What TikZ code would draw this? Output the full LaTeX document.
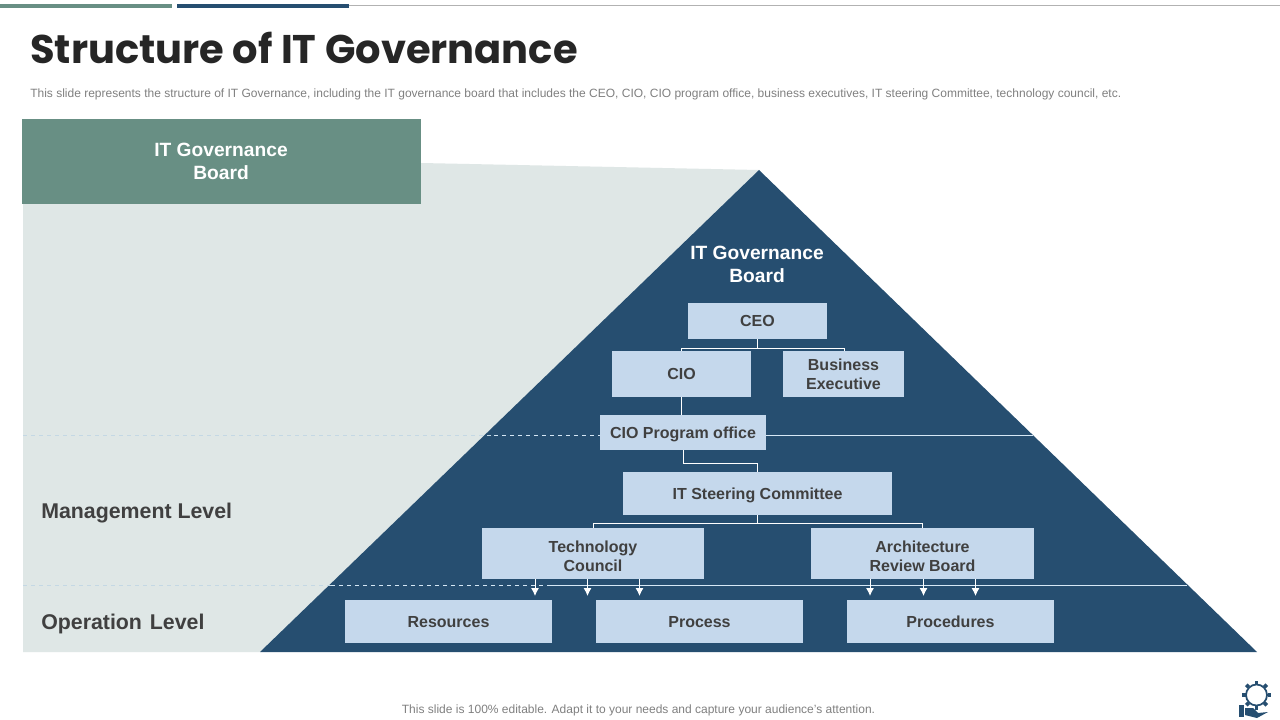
\documentclass[tikz,border=0pt]{standalone}
\usepackage{fontspec}
\setmainfont{Liberation Sans}
\newfontfamily\titlefont{Poppins}
\usepackage{tikz}
\usetikzlibrary{arrows.meta}
\definecolor{navyc}{RGB}{38,78,112}
\definecolor{greenc}{RGB}{104,143,132}
\definecolor{palec}{RGB}{223,231,230}
\definecolor{boxc}{RGB}{197,216,236}
\definecolor{inkc}{RGB}{64,64,64}
\definecolor{linec}{RGB}{214,232,246}
\definecolor{dashc}{RGB}{196,216,228}
\tikzset{
  orgbox/.style={fill=boxc,text=inkc,font=\fontsize{12}{14.25}\selectfont\bfseries,align=center,inner sep=0pt,text depth=0pt},
  twoline/.style={text height=26.8pt},
  headtext/.style={text=white,font=\fontsize{14.4}{17.2}\selectfont\bfseries,align=center},
  leveltext/.style={text=inkc,font=\fontsize{16}{18}\selectfont\bfseries,anchor=west,inner sep=0pt},
  graytext/.style={text=black!50,font=\fontsize{9}{11}\selectfont,anchor=west,inner sep=0pt},
  orgline/.style={draw=white,line width=0.75pt},
  levelline/.style={draw=linec,line width=0.6pt},
  downarrow/.style={orgline,-{Latex[length=6pt,width=6pt]}}
}
\begin{document}
\begin{tikzpicture}[x=0.75pt,y=0.75pt,yscale=-1,xscale=1]
  \useasboundingbox (0,0) rectangle (1280,720);
  % top rule
  \fill [white] (0,0) rectangle (1280,720);
  \draw [black!30,line width=0.75pt] (349,6) -- (1280,6);
  \fill [greenc] (0,4) rectangle (172,8.5);
  \fill [navyc] (177,4) rectangle (349,8.5);
  % title
  \node (title) [anchor=west,inner sep=0pt,text=black!85,font=\titlefont\fontsize{30}{36}\selectfont\bfseries] at (30,48) {Structure of IT Governance};
  \node (subtitle) [graytext] at (30,94) {This slide represents the structure of IT Governance, including the IT governance board that includes the CEO, CIO, CIO program office, business executives, IT steering Committee, technology council, etc.};
  % pyramid
  \fill [palec] (23,204) -- (421,163) -- (759,170) -- (260,652) -- (23,652) -- cycle;
  \fill [navyc] (759,170) -- (1257,652) -- (260,652) -- cycle;
  \fill [greenc] (22,119) rectangle (421,204);
  \node (sideboard) [headtext] at (221,161.5) {IT Governance\\Board};
  \node (topboard) [headtext] at (757,264.5) {IT Governance\\Board};
  \node (mgmt) [leveltext] at (41,513.5) {Management Level};
  \node (oper) [leveltext] at (41,623.5) {Operation\hspace{1.5pt} Level};
  % boxes
  \node (ceo) [orgbox,minimum width=104.25pt,minimum height=27pt] at (757.5,321) {CEO};
  \node (cio) [orgbox,minimum width=104.25pt,minimum height=34.5pt] at (681.5,374) {CIO};
  \node (bizexec) [orgbox,minimum width=90.75pt,minimum height=34.5pt] at (843.5,374) {Business\\Executive};
  \node (cpo) [orgbox,minimum width=124.5pt,minimum height=26.25pt] at (683,432.5) {CIO Program office};
  \node (steering) [orgbox,minimum width=201.75pt,minimum height=32.25pt] at (757.5,493.5) {IT Steering Committee};
  \node (techc) [orgbox,twoline,minimum width=166.5pt,minimum height=38.25pt] at (593,553.5) {Technology\\Council};
  \node (archb) [orgbox,twoline,minimum width=167.25pt,minimum height=38.25pt] at (922.5,553.5) {Architecture\\Review Board};
  \node (res) [orgbox,minimum width=155.25pt,minimum height=32.25pt] at (448.5,621.5) {Resources};
  \node (proc) [orgbox,minimum width=155.25pt,minimum height=32.25pt] at (699.5,621.5) {Process};
  \node (pdure) [orgbox,minimum width=155.25pt,minimum height=32.25pt] at (950.5,621.5) {Procedures};
  % connectors
  \draw [orgline] (ceo.south) -- (757.5,348) coordinate (ceojoin);
  \draw [orgline] (cio.north) -- (cio.north |- ceojoin) -- (844,348) coordinate (bizjoin) -- (bizjoin |- bizexec.north);
  \draw [orgline] (cio.south) -- (cio.south |- cpo.north);
  \draw [orgline] (cpo.south) -- (683,463) -- (757.5,463) -- (steering.north);
  \draw [orgline] (steering.south) -- (757.5,523.5) coordinate (steerjoin);
  \draw [orgline] (techc.north) -- (techc.north |- steerjoin) -- (archb.north |- steerjoin) -- (archb.north);
  % level lines
  \coordinate (cpoleft) at (23,435.5);
  \coordinate (cpoedge) at (494,435.5);
  \coordinate (cporight) at (1033,435.5);
  \coordinate (opleft) at (23,585);
  \coordinate (opedge) at (331,585);
  \coordinate (opright) at (1187,585);
  \coordinate (opsplit) at (550,585);
  \draw [dashc,line width=0.6pt,dashed] (cpoleft) -- (cpoedge);
  \draw [levelline,dashed] (cpoedge) -- (cpo.west |- cpoedge);
  \draw [levelline] (cpo.east |- cporight) -- (cporight);
  \draw [dashc,line width=0.6pt,dashed] (opleft) -- (opedge);
  \draw [levelline,dashed] (opedge) -- (opsplit);
  \draw [levelline] (opsplit) -- (opright);
  % arrows down
  \foreach \ax in {535,587.5,639.5}
    \draw [downarrow] (\ax,579) -- (\ax,596);
  \foreach \ax in {870,923.5,975.5}
    \draw [downarrow] (\ax,579) -- (\ax,596);
  % footer
  \node (footer) [graytext,anchor=center] at (638.5,710.5) {This slide is 100\% editable. Adapt it to your needs and capture your audience's attention.};
  % gear and hand
  \draw [navyc,line width=1.3pt] (1256.5,695) circle (10.5);
  \foreach \ang in {0,45,...,315}
    \draw [navyc,line width=2.8pt] (1256.5,695) ++(\ang:11) -- ++(\ang:3.5);
  \fill [navyc] (1239,705) rectangle (1244,717);
  \fill [navyc] (1245,708) -- (1253,708) -- (1258,713) -- (1268,712) -- (1257,718) -- (1245,715) -- cycle;
\end{tikzpicture}
\end{document}
